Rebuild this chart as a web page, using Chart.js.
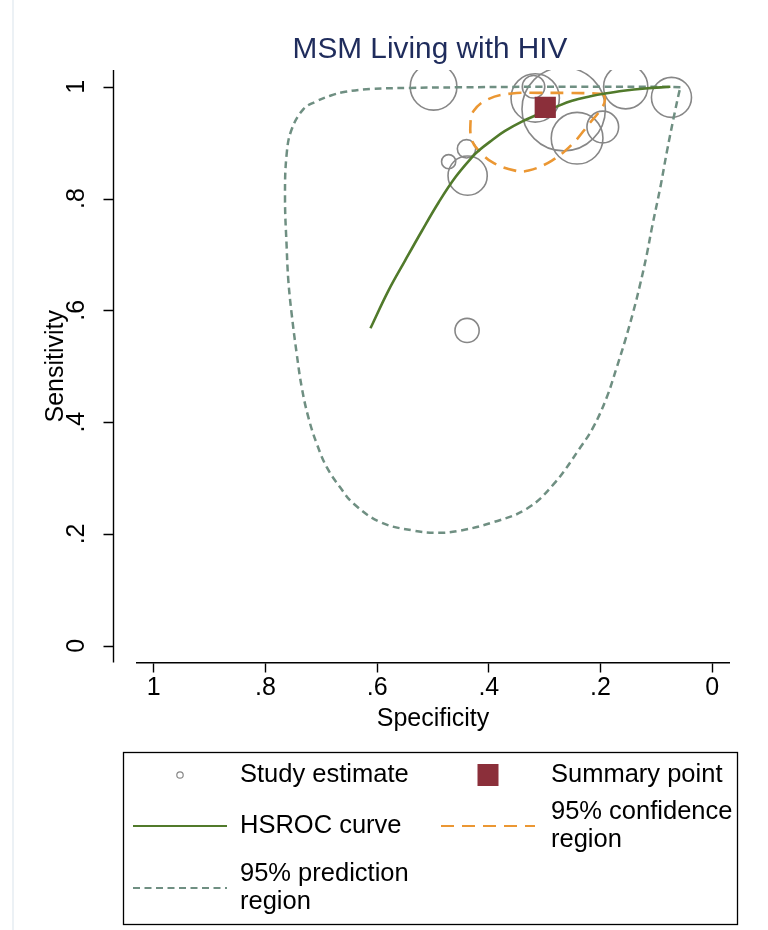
<!DOCTYPE html>
<html>
<head>
<meta charset="utf-8">
<script src="https://cdn.jsdelivr.net/npm/chart.js@4/dist/chart.umd.min.js"></script>
<style>
html,body{margin:0;padding:0;background:#ffffff;}
#wrap{width:768px;height:930px;position:relative;}
</style>
</head>
<body>
<div id="wrap"><canvas id="c"></canvas></div>
<script>
// ---------- data ----------
const chartTitle = 'MSM Living with HIV';
const xAxisTitle = 'Specificity';
const yAxisTitle = 'Sensitivity';
const tickValues = [0, 0.2, 0.4, 0.6, 0.8, 1];
const tickLabels = ['0', '.2', '.4', '.6', '.8', '1'];
const legendLabels = ['Study estimate', 'Summary point', 'HSROC curve', '95% confidence region', '95% prediction region'];

// study estimates (relative weight -> circle size)
const studySpecificity = [0.499, 0.317, 0.320, 0.266, 0.242, 0.196, 0.155, 0.073, 0.440, 0.472, 0.438, 0.439];
const studySensitivity = [1.000, 0.980, 1.000, 0.960, 0.908, 0.928, 1.000, 0.981, 0.889, 0.866, 0.841, 0.564];
const studyWeight      = [0.56, 0.58, 0.27, 1.00, 0.62, 0.38, 0.53, 0.48, 0.22, 0.17, 0.47, 0.29];

// summary point
const summarySpecificity = [0.299];
const summarySensitivity = [0.963];

// HSROC curve
const hsrocSpecificity = [0.612, 0.580, 0.550, 0.520, 0.490, 0.460, 0.430, 0.418, 0.395, 0.371, 0.340, 0.311, 0.280, 0.251, 0.218, 0.192, 0.159, 0.120, 0.075];
const hsrocSensitivity = [0.568, 0.635, 0.689, 0.742, 0.793, 0.838, 0.874, 0.886, 0.904, 0.921, 0.938, 0.951, 0.964, 0.975, 0.983, 0.988, 0.993, 0.997, 1.000];

// 95% confidence region
const confSpecificity = [0.195, 0.192, 0.197, 0.221, 0.251, 0.287, 0.329, 0.353, 0.394, 0.418, 0.430, 0.433, 0.427, 0.401, 0.359, 0.308, 0.254, 0.209, 0.195];
const confSensitivity = [0.987, 0.978, 0.963, 0.933, 0.897, 0.868, 0.850, 0.850, 0.865, 0.886, 0.903, 0.933, 0.957, 0.978, 0.988, 0.989, 0.989, 0.988, 0.987];

// 95% prediction region
const predSpecificity = [0.057, 0.093, 0.201, 0.308, 0.457, 0.541, 0.612, 0.657, 0.684, 0.711, 0.732, 0.753, 0.762, 0.765, 0.762, 0.759, 0.753, 0.744, 0.735, 0.723, 0.708, 0.690, 0.666, 0.642, 0.594, 0.535, 0.490, 0.451, 0.392, 0.332, 0.284, 0.236, 0.213, 0.189, 0.171, 0.156, 0.141, 0.129, 0.117, 0.108, 0.093, 0.081, 0.069, 0.060, 0.057];
const predSensitivity = [0.999, 1.000, 1.000, 1.000, 0.999, 0.998, 0.996, 0.991, 0.984, 0.973, 0.960, 0.924, 0.880, 0.802, 0.713, 0.653, 0.593, 0.522, 0.462, 0.408, 0.361, 0.319, 0.283, 0.254, 0.221, 0.206, 0.202, 0.206, 0.221, 0.245, 0.289, 0.355, 0.391, 0.444, 0.498, 0.546, 0.599, 0.647, 0.701, 0.748, 0.820, 0.885, 0.945, 0.987, 0.999];

// ---------- styles ----------
const FONT = '"Liberation Sans", Arial, Helvetica, sans-serif';
const BUBBLE_SCALE = 41.7;
const C_STUDY = '#878787';
const C_SUMMARY = '#8b2f3a';
const C_HSROC = '#517a2b';
const C_CONF = '#eb9733';
const C_PRED = '#6f8f82';
const C_TITLE = '#1f2c5c';

const pts = (xs, ys) => xs.map((x, i) => ({x: x, y: ys[i]}));

const datasets = [
  {
    type: 'scatter', label: legendLabels[1],
    data: pts(summarySpecificity, summarySensitivity),
    pointStyle: 'rect', pointRadius: 15, backgroundColor: C_SUMMARY, borderColor: C_SUMMARY, borderWidth: 0
  },
  {
    type: 'scatter', label: legendLabels[2], showLine: true, tension: 0.4,
    data: pts(hsrocSpecificity, hsrocSensitivity),
    borderColor: C_HSROC, borderWidth: 2.6, pointRadius: 0, fill: false
  },
  {
    type: 'scatter', label: legendLabels[3], showLine: true, tension: 0.4,
    data: pts(confSpecificity, confSensitivity),
    borderColor: C_CONF, borderWidth: 2.6, borderDash: [13, 8], pointRadius: 0, fill: false
  },
  {
    type: 'scatter', label: legendLabels[4], showLine: true, tension: 0.4,
    data: pts(predSpecificity, predSensitivity),
    borderColor: C_PRED, borderWidth: 2.5, borderDash: [7, 4.5], pointRadius: 0, fill: false
  },
  {
    type: 'bubble', label: legendLabels[0],
    data: studySpecificity.map((x, i) => ({x: x, y: studySensitivity[i], r: studyWeight[i] * BUBBLE_SCALE})),
    backgroundColor: 'rgba(0,0,0,0)', borderColor: C_STUDY, borderWidth: 1.6
  }
];

// ---------- plugins ----------
const framePlugin = {
  id: 'frame',
  beforeDraw(chart) {
    const ctx = chart.ctx;
    ctx.save();
    ctx.strokeStyle = '#e6ecf2';
    ctx.lineWidth = 1.5;
    ctx.beginPath();
    ctx.moveTo(13, 0);
    ctx.lineTo(13, chart.height);
    ctx.stroke();
    ctx.restore();
  }
};

const titlePlugin = {
  id: 'stataTitle',
  afterDraw(chart) {
    const ctx = chart.ctx;
    ctx.save();
    ctx.font = '29.8px ' + FONT;
    ctx.fillStyle = C_TITLE;
    ctx.textAlign = 'center';
    ctx.textBaseline = 'alphabetic';
    ctx.fillText(chartTitle, 430, 58);
    ctx.restore();
  }
};

const yAxisLinePlugin = {
  id: 'yAxisLine',
  afterDraw(chart) {
    const {ctx, chartArea} = chart;
    const y = chart.scales.y;
    const x = Math.round(chartArea.left - 24) + 0.5;
    ctx.save();
    ctx.strokeStyle = '#000';
    ctx.lineWidth = 1.4;
    ctx.beginPath();
    ctx.moveTo(x, chartArea.top);
    ctx.lineTo(x, chartArea.bottom);
    y.ticks.forEach(t => {
      const py = Math.round(y.getPixelForValue(t.value)) + 0.5;
      ctx.moveTo(x - 10, py);
      ctx.lineTo(x, py);
    });
    ctx.stroke();
    ctx.restore();
  }
};

function wrapText(ctx, text, maxW) {
  const words = text.split(' ');
  const lines = [];
  let cur = '';
  words.forEach(w => {
    const t = cur ? cur + ' ' + w : w;
    if (cur && ctx.measureText(t).width > maxW) { lines.push(cur); cur = w; } else { cur = t; }
  });
  if (cur) lines.push(cur);
  return lines;
}

const legendPlugin = {
  id: 'stataLegend',
  afterDraw(chart) {
    const ctx = chart.ctx;
    const ds = chart.data.datasets;
    const byLabel = l => ds.find(d => d.label === l);
    const slots = [[0, 0], [1, 0], [0, 1], [1, 1], [0, 2]];
    const symX = [180, 488], txtX = [240, 551], rowY = [775, 826, 888];
    ctx.save();
    ctx.strokeStyle = '#000';
    ctx.lineWidth = 1.3;
    ctx.strokeRect(123.5, 752.5, 614, 172);
    ctx.font = '25.5px ' + FONT;
    ctx.textBaseline = 'middle';
    ctx.textAlign = 'left';
    legendLabels.forEach((lab, i) => {
      const d = byLabel(lab);
      const [col, row] = slots[i];
      const cx = symX[col], cy = rowY[row];
      ctx.save();
      if (d.type === 'bubble') {
        ctx.strokeStyle = d.borderColor; ctx.lineWidth = 1.2;
        ctx.beginPath(); ctx.arc(cx, cy, 3.2, 0, Math.PI * 2); ctx.stroke();
      } else if (d.pointStyle === 'rect') {
        ctx.fillStyle = d.backgroundColor;
        ctx.fillRect(cx - 10.5, cy - 11, 21, 22);
      } else {
        ctx.strokeStyle = d.borderColor; ctx.lineWidth = d.borderWidth - 0.4;
        ctx.setLineDash(d.borderDash || []);
        ctx.beginPath(); ctx.moveTo(cx - 47, cy); ctx.lineTo(cx + 47, cy); ctx.stroke();
      }
      ctx.restore();
      ctx.fillStyle = '#000';
      const lines = wrapText(ctx, lab, 188);
      const lh = 27.5;
      lines.forEach((ln, k) => {
        ctx.fillText(ln, txtX[col], cy + (k - (lines.length - 1) / 2) * lh);
      });
    });
    ctx.restore();
  }
};

const fmtTick = v => {
  const i = tickValues.findIndex(t => Math.abs(t - v) < 1e-9);
  return i >= 0 ? tickLabels[i] : '';
};

new Chart(document.getElementById('c'), {
  type: 'scatter',
  data: { datasets: datasets },
  plugins: [framePlugin, titlePlugin, yAxisLinePlugin, legendPlugin],
  options: {
    responsive: true,
    maintainAspectRatio: false,
    animation: false,
    events: [],
    layout: { autoPadding: false, padding: { left: 10, right: 39, top: 70, bottom: 187.5 } },
    plugins: { legend: { display: false }, tooltip: { enabled: false }, title: { display: false } },
    scales: {
      x: {
        type: 'linear', reverse: true, min: -0.03, max: 1.03,
        afterBuildTicks: s => { s.ticks = tickValues.map(v => ({value: v})); },
        afterFit: s => { s.height = 80; },
        border: { display: true, color: '#000', width: 1.4 },
        grid: { display: true, drawOnChartArea: false, drawTicks: true, tickLength: 10, tickColor: '#000', tickWidth: 1.4, color: '#000' },
        ticks: { color: '#000', font: { family: FONT, size: 25 }, padding: 1, maxRotation: 0, autoSkip: false, callback: fmtTick },
        title: { display: true, text: xAxisTitle, color: '#000', font: { family: FONT, size: 25 }, padding: { top: 0, bottom: 8 } }
      },
      y: {
        type: 'linear', min: -0.03, max: 1.03,
        afterBuildTicks: s => { s.ticks = tickValues.map(v => ({value: v})); },
        afterFit: s => { s.width = 127; },
        border: { display: false },
        grid: { display: true, drawOnChartArea: false, drawTicks: false },
        ticks: { color: '#000', font: { family: FONT, size: 25 }, padding: 49.6, minRotation: 90, maxRotation: 90, crossAlign: 'center', autoSkip: false, callback: fmtTick },
        title: { display: true, text: yAxisTitle, color: '#000', font: { family: FONT, size: 25 }, padding: { top: 31, bottom: 0 } }
      }
    }
  }
});
</script>
</body>
</html>
